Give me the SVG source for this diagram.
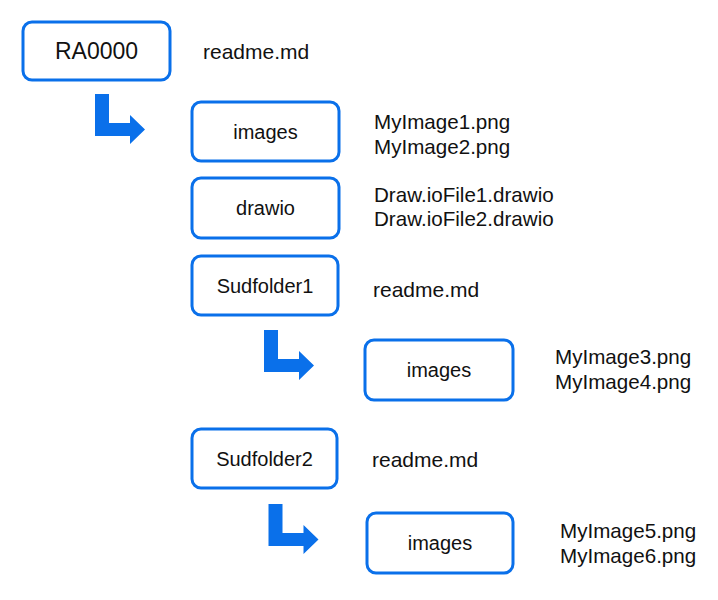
<svg xmlns="http://www.w3.org/2000/svg" width="718" height="600" viewBox="0 0 718 600">
<style>
.box{fill:#fff;stroke:#0A70EA;stroke-width:3}
.arr{fill:#0A70EA;stroke:none}
text{font-family:"Liberation Sans",Arial,sans-serif;font-size:20px;fill:#111}
.c{text-anchor:middle}
.big{font-size:23px}
.f{font-size:20.6px}
.r{font-size:21px}
</style>
<defs>
<path id="bent" d="M0,0 H14 V29 H35 V21 L50,35.5 L35,50 V42 H0 Z"/>
</defs>
<rect width="718" height="600" fill="#fff"/>
<g id="connectors">
<use href="#bent" class="arr" x="95" y="94"/>
<use href="#bent" class="arr" x="264" y="330"/>
<use href="#bent" class="arr" x="268.5" y="504"/>
</g>
<g id="ra0000">
<rect class="box" x="23" y="22" width="147" height="58" rx="9"/>
<text class="c big" x="96.5" y="59">RA0000</text>
</g>
<g id="ra0000-files"><text class="r" x="203" y="59">readme.md</text></g>
<g id="images1">
<rect class="box" x="192" y="102" width="147" height="59" rx="9"/>
<text class="c" x="265.5" y="138.5">images</text>
</g>
<g id="images1-files"><text class="f" x="374" y="129">MyImage1.png</text><text class="f" x="374" y="154">MyImage2.png</text></g>
<g id="drawio">
<rect class="box" x="192" y="178" width="147" height="60" rx="9"/>
<text class="c" x="265.5" y="215">drawio</text>
</g>
<g id="drawio-files"><text class="f" x="374" y="202">Draw.ioFile1.drawio</text><text class="f" x="374" y="226">Draw.ioFile2.drawio</text></g>
<g id="sudfolder1">
<rect class="box" x="192" y="256" width="146" height="59" rx="9"/>
<text class="c" x="265" y="293">Sudfolder1</text>
</g>
<g id="sudfolder1-files"><text class="r" x="373" y="297">readme.md</text></g>
<g id="images2">
<rect class="box" x="365" y="340" width="148" height="60" rx="9"/>
<text class="c" x="439" y="377">images</text>
</g>
<g id="images2-files"><text class="f" x="555" y="364">MyImage3.png</text><text class="f" x="555" y="389">MyImage4.png</text></g>
<g id="sudfolder2">
<rect class="box" x="192" y="429" width="145" height="59" rx="9"/>
<text class="c" x="264.5" y="466">Sudfolder2</text>
</g>
<g id="sudfolder2-files"><text class="r" x="372" y="467">readme.md</text></g>
<g id="images3">
<rect class="box" x="367" y="513" width="146" height="60" rx="9"/>
<text class="c" x="440" y="550">images</text>
</g>
<g id="images3-files"><text class="f" x="560" y="538">MyImage5.png</text><text class="f" x="560" y="563">MyImage6.png</text></g>
</svg>
